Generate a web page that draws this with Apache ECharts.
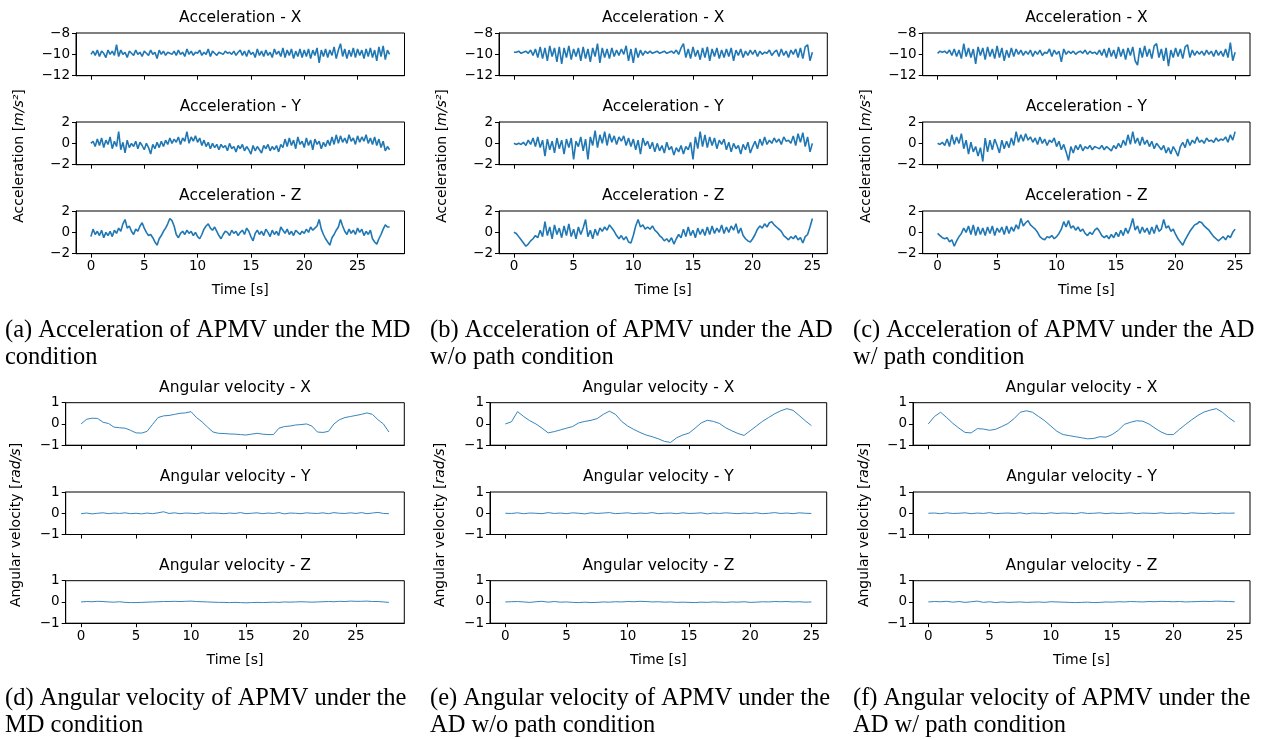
<!DOCTYPE html>
<html>
<head>
<meta charset="utf-8">
<script src="https://cdn.jsdelivr.net/npm/echarts@6/dist/echarts.min.js"></script>
<style>
  html, body { margin: 0; padding: 0; background: #fff; }
  #chart { width: 1269px; height: 740px; }
</style>
</head>
<body>
<div id="chart"></div>
<script>
// sample spacing of the values below (seconds)
const ACC_DT = 0.2;
const GYRO_DT = 0.5;

// (a) MD condition, 0..28 s
const accX_MD = [
  -10.0,-9.7,-10.1,-9.6,-10.2,-9.7,-9.9,-10.3,-9.6,-10.0,
  -9.7,-10.1,-9.1,-10.2,-9.6,-10.0,-9.8,-10.3,-9.7,-9.9,
  -10.1,-9.6,-10.0,-9.8,-10.2,-9.7,-9.9,-10.1,-9.6,-10.0,
  -9.8,-10.4,-9.6,-10.0,-9.7,-10.1,-9.8,-9.9,-10.0,-9.7,
  -10.1,-9.6,-10.0,-9.8,-10.2,-9.5,-10.0,-9.7,-10.1,-9.8,
  -9.9,-9.6,-10.1,-9.8,-10.0,-9.5,-10.2,-9.7,-9.9,-10.1,
  -9.8,-9.9,-10.0,-9.7,-9.9,-9.8,-10.0,-9.7,-10.1,-9.8,
  -9.6,-10.1,-9.7,-10.2,-9.6,-10.0,-9.8,-10.3,-9.5,-10.1,
  -9.7,-10.2,-9.6,-10.1,-9.8,-10.3,-9.5,-10.0,-9.7,-10.2,
  -9.4,-10.3,-9.6,-10.1,-9.5,-10.4,-9.7,-10.2,-9.5,-10.3,
  -9.6,-10.2,-9.5,-10.4,-9.6,-10.1,-9.4,-10.8,-9.6,-10.2,
  -9.5,-10.3,-9.6,-10.1,-9.3,-10.4,-9.6,-9.0,-10.2,-9.5,
  -10.4,-9.6,-10.2,-9.4,-10.3,-9.5,-10.1,-9.6,-10.4,-9.5,
  -10.2,-9.4,-10.3,-9.6,-10.6,-9.3,-10.2,-9.2,-10.5,-9.6,
  -10.0
];
const accY_MD = [
  0.0,0.2,-0.3,0.4,-0.2,0.5,-0.4,0.3,-0.1,0.6,
  -0.5,0.2,-0.3,1.1,-0.6,0.1,-0.9,0.3,-0.4,0.0,
  -0.3,0.2,-0.5,0.1,-0.2,-0.6,0.0,-0.4,-1.0,-0.1,
  -0.5,0.1,-0.4,0.2,-0.3,0.3,-0.1,0.5,0.0,0.4,
  0.1,0.6,-0.1,0.5,0.2,1.1,0.0,0.6,0.2,0.7,
  0.1,0.5,-0.2,0.3,-0.3,0.1,-0.5,0.0,-0.4,-0.1,
  -0.6,-0.1,-0.4,-0.2,-0.7,0.0,-0.5,-0.3,-0.8,-0.2,
  -0.5,-0.1,-0.7,-0.3,-0.6,-1.0,-0.2,-0.7,-0.3,-0.6,
  -0.9,-0.2,-0.5,-0.1,-0.7,-0.3,-0.6,-0.2,-0.8,-0.1,
  -0.4,0.4,-0.3,0.5,-0.2,0.3,-0.5,0.6,-0.1,0.2,
  -0.4,0.5,-0.2,0.3,-0.6,0.4,-0.1,0.2,-0.5,0.1,
  -0.3,0.3,-0.2,0.6,-0.1,0.8,0.0,0.7,0.1,0.5,
  0.0,0.8,0.2,0.5,-0.1,0.7,0.1,0.6,0.2,0.8,
  0.0,0.5,-0.1,0.6,-0.2,0.4,-0.4,0.2,-0.7,-0.3,
  -0.6
];
const accZ_MD = [
  -0.4,0.3,-0.2,0.1,-0.3,0.2,-0.5,0.0,-0.3,0.1,
  -0.4,0.2,-0.1,0.4,0.1,0.8,1.2,0.4,0.6,0.1,
  -0.2,0.3,0.1,0.6,0.9,0.4,0.0,-0.3,-0.2,-0.5,
  -0.9,-1.2,-0.6,-0.3,0.1,0.4,0.8,1.3,1.1,0.6,
  -0.2,-0.5,-0.1,0.1,-0.2,0.2,-0.1,0.1,-0.3,0.0,
  -0.4,-0.6,-0.2,0.3,0.6,0.8,0.4,0.2,0.5,0.1,
  -0.3,-0.6,-0.2,0.1,0.0,-0.3,0.2,-0.1,0.1,-0.3,
  0.0,0.2,-0.2,0.4,0.1,-0.4,-0.8,-0.1,0.2,-0.2,
  0.1,-0.3,0.3,0.0,-0.4,0.2,-0.2,0.1,-0.3,0.5,
  0.2,-0.1,0.3,-0.2,0.1,-0.3,0.2,0.0,-0.2,0.1,
  -0.1,0.3,0.0,0.5,0.2,0.4,0.6,1.2,0.3,-0.2,
  -0.6,-0.9,-1.2,-0.5,-0.2,0.2,0.5,1.2,0.6,0.1,
  -0.2,0.3,-0.1,0.2,-0.2,0.4,0.0,0.3,-0.3,0.1,
  -0.2,0.2,-0.6,-0.9,-1.1,-0.6,-0.2,0.3,0.7,0.5,
  0.5
];

// (b) AD w/o path, 0..25 s
const accX_ADnp = [
  -9.8,-9.8,-9.7,-9.9,-9.8,-9.7,-9.9,-9.6,-10.1,-9.5,
  -10.3,-9.3,-10.4,-9.4,-10.6,-9.2,-10.2,-9.4,-10.7,-9.3,
  -10.9,-9.4,-10.3,-9.2,-10.5,-9.5,-10.2,-9.4,-10.6,-9.3,
  -10.4,-9.5,-10.7,-9.4,-10.2,-9.0,-10.8,-9.4,-10.3,-9.5,
  -10.4,-9.4,-10.2,-9.6,-10.1,-9.5,-10.0,-9.2,-10.6,-9.5,
  -10.8,-9.4,-10.3,-9.6,-10.1,-9.7,-9.9,-9.7,-9.9,-9.8,
  -9.7,-9.9,-9.8,-9.7,-9.9,-9.8,-9.7,-9.9,-9.6,-10.0,
  -9.4,-9.0,-10.3,-9.5,-10.4,-9.3,-10.2,-9.6,-10.5,-9.4,
  -10.3,-9.3,-10.6,-9.5,-10.2,-9.4,-10.4,-9.6,-10.3,-9.5,
  -10.2,-9.4,-10.6,-9.6,-10.1,-9.5,-10.3,-9.7,-10.1,-9.6,
  -10.0,-9.6,-10.2,-9.7,-10.0,-9.8,-9.9,-9.6,-10.1,-9.8,
  -9.6,-10.2,-9.5,-10.1,-9.7,-10.3,-9.6,-10.0,-9.5,-10.3,
  -9.4,-10.4,-9.3,-9.1,-10.6,
  -9.8
];
const accY_ADnp = [
  0.0,-0.1,0.0,-0.1,0.1,-0.2,0.3,-0.1,0.5,-0.3,
  0.6,-0.4,0.3,-1.2,0.4,-0.6,0.2,-0.9,0.5,-0.5,
  0.3,-1.0,0.4,-0.4,0.5,-1.5,0.2,-0.3,0.6,-0.7,
  0.4,-1.5,0.6,-0.2,1.2,-0.4,0.8,0.0,1.1,-0.2,
  0.9,0.1,0.7,-0.1,0.6,0.2,0.7,-0.2,0.5,-0.3,
  0.4,-0.6,0.3,-1.0,0.5,-0.2,0.2,-0.5,0.1,-0.8,
  0.0,-0.7,-0.2,-0.9,0.1,-0.6,-0.3,-1.1,-0.4,-0.8,
  -0.2,-1.0,-0.3,-0.6,0.1,-1.5,0.6,-0.5,1.1,-0.3,
  0.8,-0.4,0.6,-0.2,0.5,-0.5,0.3,-0.1,0.4,-0.6,
  0.1,-0.8,0.0,-0.5,-0.2,-1.0,-0.1,-0.6,0.1,-0.9,
  -0.3,0.2,-0.5,0.4,-0.2,0.6,-0.1,0.3,0.0,0.5,
  0.1,0.4,-0.1,0.6,0.2,0.3,0.0,0.7,-0.2,0.9,
  0.1,1.0,-0.3,0.6,-0.8,
  0.0
];
const accZ_ADnp = [
  0.0,-0.1,-0.4,-0.7,-1.0,-1.3,-1.1,-0.8,-0.6,-0.3,
  -0.5,0.2,-0.4,1.0,-0.3,0.5,-0.6,0.7,-0.2,0.4,
  -0.5,0.6,-0.3,0.8,-0.4,0.3,-0.6,0.5,-0.2,0.4,
  1.2,-0.4,0.2,-0.6,0.3,-0.3,0.4,0.1,0.5,0.2,
  0.7,0.4,0.1,-0.3,-0.6,-0.3,-0.7,-0.4,-0.9,-1.0,
  -0.3,0.6,1.2,0.5,0.7,0.3,0.5,0.3,0.6,0.2,
  0.0,-0.3,-0.5,-0.8,-0.6,-0.9,-0.5,-1.1,-0.6,-0.2,
  -0.5,0.3,-0.4,0.5,-0.3,0.2,-0.5,0.4,-0.2,0.3,
  -0.3,0.5,-0.2,0.6,-0.1,0.4,0.0,0.7,-0.1,0.5,
  0.0,0.6,0.2,0.8,-0.1,0.4,-0.3,-0.6,-0.8,-0.9,
  -0.6,-0.2,0.3,0.6,0.4,0.8,0.5,0.9,1.0,0.7,
  0.5,0.3,0.1,-0.3,-0.5,-0.7,-0.4,-0.6,-0.3,-0.7,
  -0.5,-1.0,-0.4,-0.2,0.5,
  1.3
];

// (c) AD w/ path, 0..25 s
const accX_ADp = [
  -9.9,-9.7,-9.8,-9.7,-9.9,-9.6,-10.1,-9.5,-10.2,-9.6,
  -10.4,-9.0,-10.2,-9.4,-10.3,-9.5,-10.9,-9.3,-10.1,-9.4,
  -10.5,-9.3,-10.2,-9.5,-10.4,-9.2,-10.3,-9.4,-10.6,-9.6,
  -10.3,-9.4,-10.2,-9.5,-10.0,-9.6,-10.1,-9.7,-10.0,-9.6,
  -10.2,-9.7,-10.0,-9.6,-10.1,-9.8,-9.9,-9.5,-10.2,-9.6,
  -10.0,-9.7,-10.7,-9.5,-10.0,-9.7,-9.9,-9.7,-10.0,-9.8,
  -9.7,-9.9,-9.6,-10.0,-9.7,-9.9,-9.8,-10.0,-9.6,-10.1,
  -9.5,-10.3,-9.4,-10.2,-9.6,-10.4,-9.3,-10.2,-9.5,-10.5,
  -9.4,-10.1,-9.3,-10.6,-11.0,-9.4,-10.3,-9.2,-10.2,-9.5,
  -10.4,-9.2,-9.0,-10.3,-9.5,-10.6,-9.4,-11.1,-9.6,-10.3,
  -9.4,-10.2,-9.5,-10.4,-9.3,-9.1,-10.3,-9.6,-10.1,-9.7,
  -10.0,-9.7,-10.1,-9.6,-10.0,-9.7,-10.2,-9.6,-10.1,-9.7,
  -10.2,-9.5,-10.3,-8.9,-10.6,
  -9.8
];
const accY_ADp = [
  0.0,-0.1,0.1,-0.2,0.4,-0.3,0.8,-0.1,0.6,0.0,
  0.9,-0.5,0.3,-1.0,0.1,-0.8,-0.3,-1.2,-0.4,-1.7,
  0.5,-0.8,0.3,-0.6,0.4,-0.2,-0.9,0.3,-0.5,0.2,
  -0.4,0.5,-0.2,1.1,0.1,0.8,0.2,0.9,0.3,0.6,
  0.1,0.5,-0.1,0.6,0.0,0.4,-0.2,0.3,0.1,0.5,
  -0.3,0.2,-0.6,-0.1,-0.8,-1.6,-0.3,-0.9,-0.2,-0.6,
  -0.1,-0.7,-0.3,-0.5,-0.2,-0.6,-0.3,-0.4,-0.5,-0.2,
  -0.6,-0.3,-0.5,-0.7,-0.2,-0.5,0.0,-0.4,0.3,-0.2,
  0.8,-0.1,1.1,0.0,0.5,-0.2,0.6,-0.1,0.3,-0.3,
  0.2,-0.5,0.0,-0.3,-0.6,-0.2,-0.9,-0.4,-1.0,-0.3,
  -0.7,-1.2,-0.3,0.1,-0.4,0.4,-0.2,0.3,0.0,0.6,
  0.1,0.3,0.0,0.5,0.2,0.3,0.1,0.5,0.2,0.4,
  0.3,0.6,0.1,0.8,0.3,
  1.1
];
const accZ_ADp = [
  -0.1,-0.3,-0.5,-0.6,-0.5,-0.9,-0.7,-1.3,-0.8,-0.4,
  -0.1,0.4,0.0,0.6,-0.2,0.7,-0.3,0.5,-0.2,0.4,
  -0.3,0.5,-0.1,0.6,-0.3,0.4,0.0,0.5,-0.2,0.6,
  -0.1,0.5,0.1,0.7,0.3,1.3,0.6,0.9,1.1,0.7,
  0.5,0.3,0.0,-0.4,-0.6,-0.7,-0.4,-0.5,-0.3,-0.6,
  -0.4,-0.1,0.3,1.0,0.5,1.1,0.4,0.6,0.2,0.5,
  0.1,0.3,-0.1,-0.3,0.0,-0.2,0.2,0.4,0.1,-0.3,
  -0.5,-0.3,-0.6,-0.2,-0.5,0.0,-0.4,0.2,-0.3,0.4,
  -0.1,0.5,1.3,0.2,0.6,-0.1,0.5,0.0,0.4,-0.2,
  0.5,-0.1,0.7,0.1,0.3,1.2,0.4,0.6,0.1,0.3,
  -0.2,-0.6,-0.9,-1.2,-0.7,-0.3,0.1,0.4,0.7,0.8,
  1.0,0.9,0.6,0.4,0.2,-0.1,-0.4,-0.6,-0.8,-0.6,
  -0.4,-0.7,-0.3,-0.5,0.0,
  0.3
];

// angular velocity, step GYRO_DT
const gyroX_MD = [
  0.0,0.22,0.27,0.26,0.08,0.02,-0.15,-0.18,-0.2,-0.3,
  -0.42,-0.43,-0.35,-0.02,0.3,0.38,0.4,0.45,0.5,0.52,
  0.58,0.3,0.1,-0.15,-0.38,-0.44,-0.45,-0.47,-0.48,-0.5,
  -0.52,-0.48,-0.44,-0.48,-0.5,-0.5,-0.2,-0.12,-0.1,-0.05,
  -0.03,0.0,-0.1,-0.38,-0.4,-0.35,0.0,0.2,0.3,0.35,
  0.4,0.45,0.52,0.45,0.2,0.0,-0.38
];
const gyroY_MD = [
  -0.02,0.01,-0.03,0.00,0.02,-0.02,0.01,-0.01,0.02,-0.02,
  0.00,-0.03,0.01,-0.02,0.02,0.07,-0.01,0.02,-0.02,0.01,
  0.00,-0.02,0.02,-0.01,0.01,0.00,-0.02,0.01,-0.01,0.03,
  -0.02,0.00,0.02,-0.02,0.01,-0.01,0.03,-0.03,0.01,0.00,
  -0.02,0.02,0.00,-0.01,0.02,-0.02,0.03,0.00,-0.01,0.02,
  -0.01,0.03,-0.02,0.01,0.04,-0.01,-0.02
];
const gyroZ_MD = [
  0.00,0.02,0.01,0.03,0.02,0.00,-0.01,0.01,-0.02,-0.03,
  -0.03,-0.02,-0.01,0.00,0.01,0.02,0.02,0.03,0.02,0.03,
  0.04,0.02,0.01,0.00,-0.01,-0.02,-0.02,-0.03,-0.02,-0.03,
  -0.04,-0.03,-0.02,-0.03,-0.02,-0.01,-0.02,0.00,-0.01,0.00,
  0.01,0.00,-0.01,0.00,0.01,0.02,0.01,0.03,0.02,0.04,
  0.03,0.03,0.04,0.02,0.02,0.00,-0.02
];
const gyroX_ADnp = [
  0.0,0.1,0.58,0.35,0.15,0.0,-0.2,-0.42,-0.36,-0.28,
  -0.2,-0.12,0.05,0.12,0.17,0.25,0.45,0.6,0.45,0.12,
  -0.1,-0.26,-0.4,-0.52,-0.6,-0.7,-0.82,-0.87,-0.65,-0.52,
  -0.43,-0.2,0.05,0.17,0.12,0.02,-0.18,-0.32,-0.45,-0.54,
  -0.32,-0.1,0.12,0.3,0.48,0.62,0.72,0.64,0.4,0.15,
  -0.08
];
const gyroY_ADnp = [
  0.00,-0.01,0.02,-0.02,0.01,0.00,-0.02,0.03,-0.01,0.01,
  -0.02,0.02,0.00,-0.03,0.02,-0.01,0.01,0.03,-0.02,0.00,
  0.02,-0.02,0.01,-0.01,0.03,-0.02,0.00,0.01,-0.02,0.02,
  -0.01,0.00,0.02,-0.03,0.01,-0.01,0.02,0.00,-0.02,0.01,
  -0.01,0.02,-0.02,0.00,0.03,-0.01,0.01,-0.02,0.02,0.00,
  -0.01
];
const gyroZ_ADnp = [
  0.00,0.01,0.02,0.00,-0.02,0.01,0.03,-0.01,0.02,-0.01,
  0.00,-0.02,-0.03,-0.01,-0.03,-0.02,0.00,-0.01,0.01,0.00,
  0.02,0.01,0.03,0.02,0.00,0.01,-0.01,0.00,-0.02,-0.01,
  -0.02,-0.03,-0.01,-0.02,0.00,-0.01,-0.02,0.00,-0.01,0.01,
  -0.02,-0.01,0.01,0.00,0.02,0.01,0.02,0.00,0.01,-0.01,
  0.00
];
const gyroX_ADp = [
  0.0,0.35,0.55,0.3,0.03,-0.2,-0.4,-0.42,-0.22,-0.24,
  -0.3,-0.25,-0.12,0.02,0.25,0.55,0.62,0.55,0.35,0.15,
  -0.1,-0.35,-0.5,-0.55,-0.6,-0.65,-0.7,-0.68,-0.6,-0.62,
  -0.5,-0.3,-0.02,0.08,0.15,0.13,0.0,-0.2,-0.38,-0.5,
  -0.5,-0.25,-0.02,0.2,0.4,0.56,0.65,0.72,0.55,0.3,
  0.1
];
const gyroY_ADp = [
  0.00,0.01,-0.02,0.02,-0.01,0.00,0.02,-0.02,0.01,-0.01,
  0.03,-0.02,0.00,0.01,-0.01,0.02,-0.03,0.01,0.00,-0.02,
  0.02,-0.01,0.01,0.00,-0.02,0.03,-0.01,0.00,0.02,-0.02,
  0.01,-0.01,0.00,0.02,-0.02,0.01,0.00,-0.01,0.02,-0.01,
  0.00,0.01,-0.02,0.02,0.00,-0.01,0.01,-0.02,0.01,0.00,
  0.01
];
const gyroZ_ADp = [
  0.00,0.02,0.01,0.03,-0.01,0.02,-0.02,0.01,0.04,-0.02,
  0.01,-0.03,0.00,-0.02,-0.01,0.00,-0.02,-0.01,0.00,-0.02,
  0.01,0.00,-0.01,-0.02,-0.03,-0.02,-0.01,-0.03,-0.02,0.00,
  -0.01,0.01,0.00,0.02,0.01,0.00,0.02,0.01,0.03,0.02,
  0.01,0.02,0.00,0.01,0.02,0.03,0.02,0.04,0.03,0.02,
  0.01
];

const xTicks = [0, 5, 10, 15, 20, 25];
const accTitles = ["Acceleration - X", "Acceleration - Y", "Acceleration - Z"];
const gyroTitles = ["Angular velocity - X", "Angular velocity - Y", "Angular velocity - Z"];
const captions = [
  ["(a) Acceleration of APMV under the MD", "condition"],
  ["(b) Acceleration of APMV under the AD", "w/o path condition"],
  ["(c) Acceleration of APMV under the AD", "w/ path condition"],
  ["(d) Angular velocity of APMV under the", "MD condition"],
  ["(e) Angular velocity of APMV under the", "AD w/o path condition"],
  ["(f) Angular velocity of APMV under the", "AD w/ path condition"]
];

const BLUE = "#1f77b4";
const FONT = "DejaVu Sans";
const minus = (v) => String(v).replace("-", "\u2212");

// each panel = 3 stacked subplots
const panels = [
  { left: 76, width: 328.5, tops: [33, 122, 211], h: 42.7, T: 28, dt: ACC_DT,
    series: [accX_MD, accY_MD, accZ_MD], ranges: [[-12, -8, 2], [-2, 2, 2], [-2, 2, 2]],
    titles: accTitles, ylab: "Acceleration [{i|m/s²}]", ylabX: 19, ylabY: 156, xlabY: 290, lw: 1.6 },
  { left: 499, width: 328.3, tops: [33, 122, 211], h: 42.7, T: 25, dt: ACC_DT,
    series: [accX_ADnp, accY_ADnp, accZ_ADnp], ranges: [[-12, -8, 2], [-2, 2, 2], [-2, 2, 2]],
    titles: accTitles, ylab: "Acceleration [{i|m/s²}]", ylabX: 442, ylabY: 156, xlabY: 290, lw: 1.6 },
  { left: 922.7, width: 327.3, tops: [33, 122, 211], h: 42.7, T: 25, dt: ACC_DT,
    series: [accX_ADp, accY_ADp, accZ_ADp], ranges: [[-12, -8, 2], [-2, 2, 2], [-2, 2, 2]],
    titles: accTitles, ylab: "Acceleration [{i|m/s²}]", ylabX: 866, ylabY: 156, xlabY: 290, lw: 1.6 },
  { left: 65.7, width: 338.6, tops: [402.7, 492, 580.7], h: 42.5, T: 28, dt: GYRO_DT,
    series: [gyroX_MD, gyroY_MD, gyroZ_MD], ranges: [[-1, 1, 1], [-1, 1, 1], [-1, 1, 1]],
    titles: gyroTitles, ylab: "Angular velocity [{i|rad/s}]", ylabX: 16.5, ylabY: 525, xlabY: 660, lw: 0.9 },
  { left: 490, width: 336.7, tops: [402.7, 492, 580.7], h: 42.5, T: 25, dt: GYRO_DT,
    series: [gyroX_ADnp, gyroY_ADnp, gyroZ_ADnp], ranges: [[-1, 1, 1], [-1, 1, 1], [-1, 1, 1]],
    titles: gyroTitles, ylab: "Angular velocity [{i|rad/s}]", ylabX: 440, ylabY: 525, xlabY: 660, lw: 0.9 },
  { left: 913, width: 337, tops: [402.7, 492, 580.7], h: 42.5, T: 25, dt: GYRO_DT,
    series: [gyroX_ADp, gyroY_ADp, gyroZ_ADp], ranges: [[-1, 1, 1], [-1, 1, 1], [-1, 1, 1]],
    titles: gyroTitles, ylab: "Angular velocity [{i|rad/s}]", ylabX: 864, ylabY: 525, xlabY: 660, lw: 0.9 }
];
const captionPos = [[5, 331], [430, 331], [853, 331], [5, 699], [430, 699], [853, 699]];

const grid = [], xAxis = [], yAxis = [], series = [], graphic = [];

panels.forEach((p, pi) => {
  for (let k = 0; k < 3; k++) {
    const idx = grid.length;
    const isBottom = k === 2;
    const r = p.ranges[k];
    grid.push({
      left: p.left, top: p.tops[k], width: p.width, height: p.h,
      show: true, borderColor: "#000", borderWidth: 1, backgroundColor: "transparent"
    });
    xAxis.push({
      type: "value", gridIndex: idx,
      min: -0.05 * p.T, max: 1.05 * p.T,
      axisLine: { onZero: false, lineStyle: { color: "#000", width: 1 } },
      axisTick: { show: true, length: 4, customValues: xTicks, lineStyle: { color: "#000" } },
      axisLabel: { show: isBottom, customValues: xTicks, margin: 6, color: "#000",
        fontFamily: FONT, fontSize: 13.5 },
      splitLine: { show: false }
    });
    yAxis.push({
      type: "value", gridIndex: idx,
      min: r[0], max: r[1], interval: r[2],
      axisLine: { show: true, onZero: false, lineStyle: { color: "#000", width: 1 } },
      axisTick: { show: true, length: 4, lineStyle: { color: "#000" } },
      axisLabel: { margin: 6, color: "#000", fontFamily: FONT, fontSize: 13.5, formatter: minus },
      splitLine: { show: false }
    });
    series.push({
      type: "line", xAxisIndex: idx, yAxisIndex: idx,
      data: p.series[k].map((v, i) => [+(i * p.dt).toFixed(2), v]),
      showSymbol: false, symbol: "none",
      lineStyle: { color: BLUE, width: p.lw },
      silent: true
    });
    graphic.push({
      type: "text", x: p.left + p.width / 2, y: p.tops[k] - 15,
      style: { text: p.titles[k], fill: "#000", fontFamily: FONT, fontSize: 15.5,
        align: "center", verticalAlign: "middle" }
    });
  }
  // y label (rotated) and x label
  graphic.push({
    type: "text", x: p.ylabX, y: p.ylabY, rotation: Math.PI / 2,
    style: { text: p.ylab, fill: "#000", fontFamily: FONT, fontSize: 14,
      align: "center", verticalAlign: "middle",
      rich: { i: { fontStyle: "italic", fontFamily: FONT, fontSize: 14 } } }
  });
  graphic.push({
    type: "text", x: p.left + p.width / 2, y: p.xlabY,
    style: { text: "Time [s]", fill: "#000", fontFamily: FONT, fontSize: 14,
      align: "center", verticalAlign: "middle" }
  });
  // caption
  const cp = captionPos[pi];
  captions[pi].forEach((line, li) => {
    graphic.push({
      type: "text", x: cp[0], y: cp[1] + li * 27,
      style: { text: line, fill: "#000", fontFamily: "Liberation Serif", fontSize: 24.5,
        align: "left", verticalAlign: "middle" }
    });
  });
});

const chart = echarts.init(document.getElementById("chart"), null, { renderer: "canvas" });
chart.setOption({
  animation: false,
  backgroundColor: "#fff",
  grid, xAxis, yAxis, series, graphic
});
</script>
</body>
</html>
